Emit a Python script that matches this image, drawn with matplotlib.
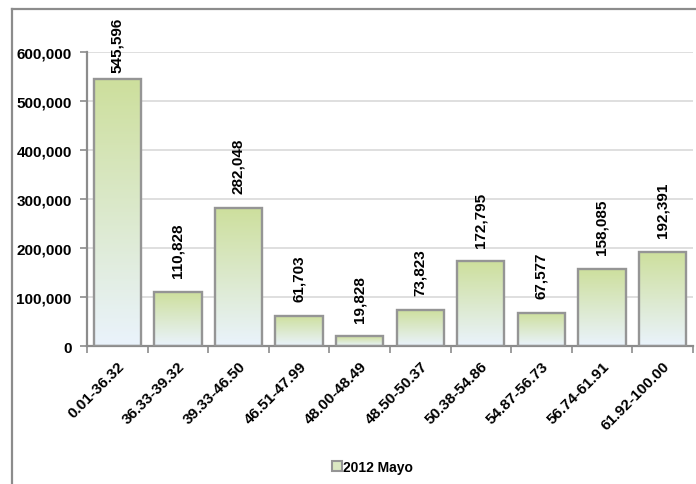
import matplotlib
matplotlib.use("Agg")
import matplotlib.pyplot as plt
import numpy as np
from matplotlib.colors import LinearSegmentedColormap
from matplotlib.lines import Line2D
from matplotlib.patches import Rectangle
from matplotlib.ticker import FuncFormatter, MultipleLocator

plt.rcParams["font.family"] = ["Liberation Sans", "DejaVu Sans"]

CATEGORIES = [
    "0.01-36.32", "36.33-39.32", "39.33-46.50", "46.51-47.99", "48.00-48.49",
    "48.50-50.37", "50.38-54.86", "54.87-56.73", "56.74-61.91", "61.92-100.00",
]
VALUES = [545596, 110828, 282048, 61703, 19828, 73823, 172795, 67577, 158085, 192391]
SERIES_NAME = "2012 Mayo"

GREEN_TOP = "#cddf9c"
BLUE_BOTTOM = "#eaf3fc"
EDGE = "#959595"
YMAX = 600000

fig = plt.figure(figsize=(6.96, 4.85), dpi=100)
fig.patch.set_facecolor("white")

# outer chart frame (top and left edges visible)
fig.add_artist(Line2D([0.0172, 1.0], [0.979, 0.979], color="#8c8c8c", lw=1.6))
fig.add_artist(Line2D([0.0172, 0.0172], [0.0, 0.979], color="#8c8c8c", lw=1.6))

ax = fig.add_axes([0.125, 0.2845, 0.8705, 0.6062])
x = np.arange(len(CATEGORIES))
bars = ax.bar(x, VALUES, width=0.78, facecolor="none", edgecolor=EDGE, linewidth=1.7, zorder=3)

cmap = LinearSegmentedColormap.from_list("grad", [BLUE_BOTTOM, GREEN_TOP])
grad = np.linspace(0, 1, 256).reshape(-1, 1)
for b in bars:
    x0, w, h = b.get_x(), b.get_width(), b.get_height()
    im = ax.imshow(grad, cmap=cmap, origin="lower", aspect="auto",
                   extent=[x0, x0 + w, 0, h], zorder=2)
    im.set_clip_path(b)

# labels sit ~14px above bars, squeezed down when the bar nearly fills the plot
for xi, v in zip(x, VALUES):
    gap = 4.5 if v > 0.85 * YMAX else 10.5
    ax.annotate(f"{v:,}", (xi, v), xytext=(0, gap), textcoords="offset points",
                rotation=90, ha="center", va="bottom", fontsize=11,
                fontweight="bold", annotation_clip=False)

ax.set_xlim(-0.5, len(CATEGORIES) - 0.5)
ax.set_ylim(0, YMAX)
ax.yaxis.set_major_locator(MultipleLocator(100000))
ax.yaxis.set_major_formatter(FuncFormatter(lambda v, _: f"{int(v):,}"))
ax.grid(axis="y", color="#d9d9d9", linewidth=1.2, zorder=0)
ax.set_axisbelow(True)

ax.set_xticks(x)
ax.set_xticklabels(CATEGORIES, rotation=45, ha="right", rotation_mode="anchor",
                   fontsize=11, fontweight="bold")
ax.set_xticks(np.arange(len(CATEGORIES) + 1) - 0.5, minor=True)
ax.tick_params(axis="x", which="major", length=0, pad=9)
ax.tick_params(axis="x", which="minor", length=5, width=1.2, color="#8c8c8c", direction="out")
ax.tick_params(axis="y", length=5, width=1.2, color="#8c8c8c", labelsize=11, pad=6)
for lbl in ax.get_yticklabels():
    lbl.set_fontweight("bold")

for side in ("top", "right"):
    ax.spines[side].set_visible(False)
for side in ("left", "bottom"):
    ax.spines[side].set_color("#8c8c8c")
    ax.spines[side].set_linewidth(1.6)

# legend
handle = Rectangle((0, 0), 1, 1, facecolor="#dbe8c2", edgecolor=EDGE, linewidth=1.5)
fig.legend([handle], [SERIES_NAME], loc="center", bbox_to_anchor=(0.535, 0.035),
           frameon=False, handlelength=0.75, handleheight=0.75, handletextpad=0.1,
           prop={"weight": "bold", "size": 10})

fig.savefig("out.png", dpi=100, facecolor="white")
